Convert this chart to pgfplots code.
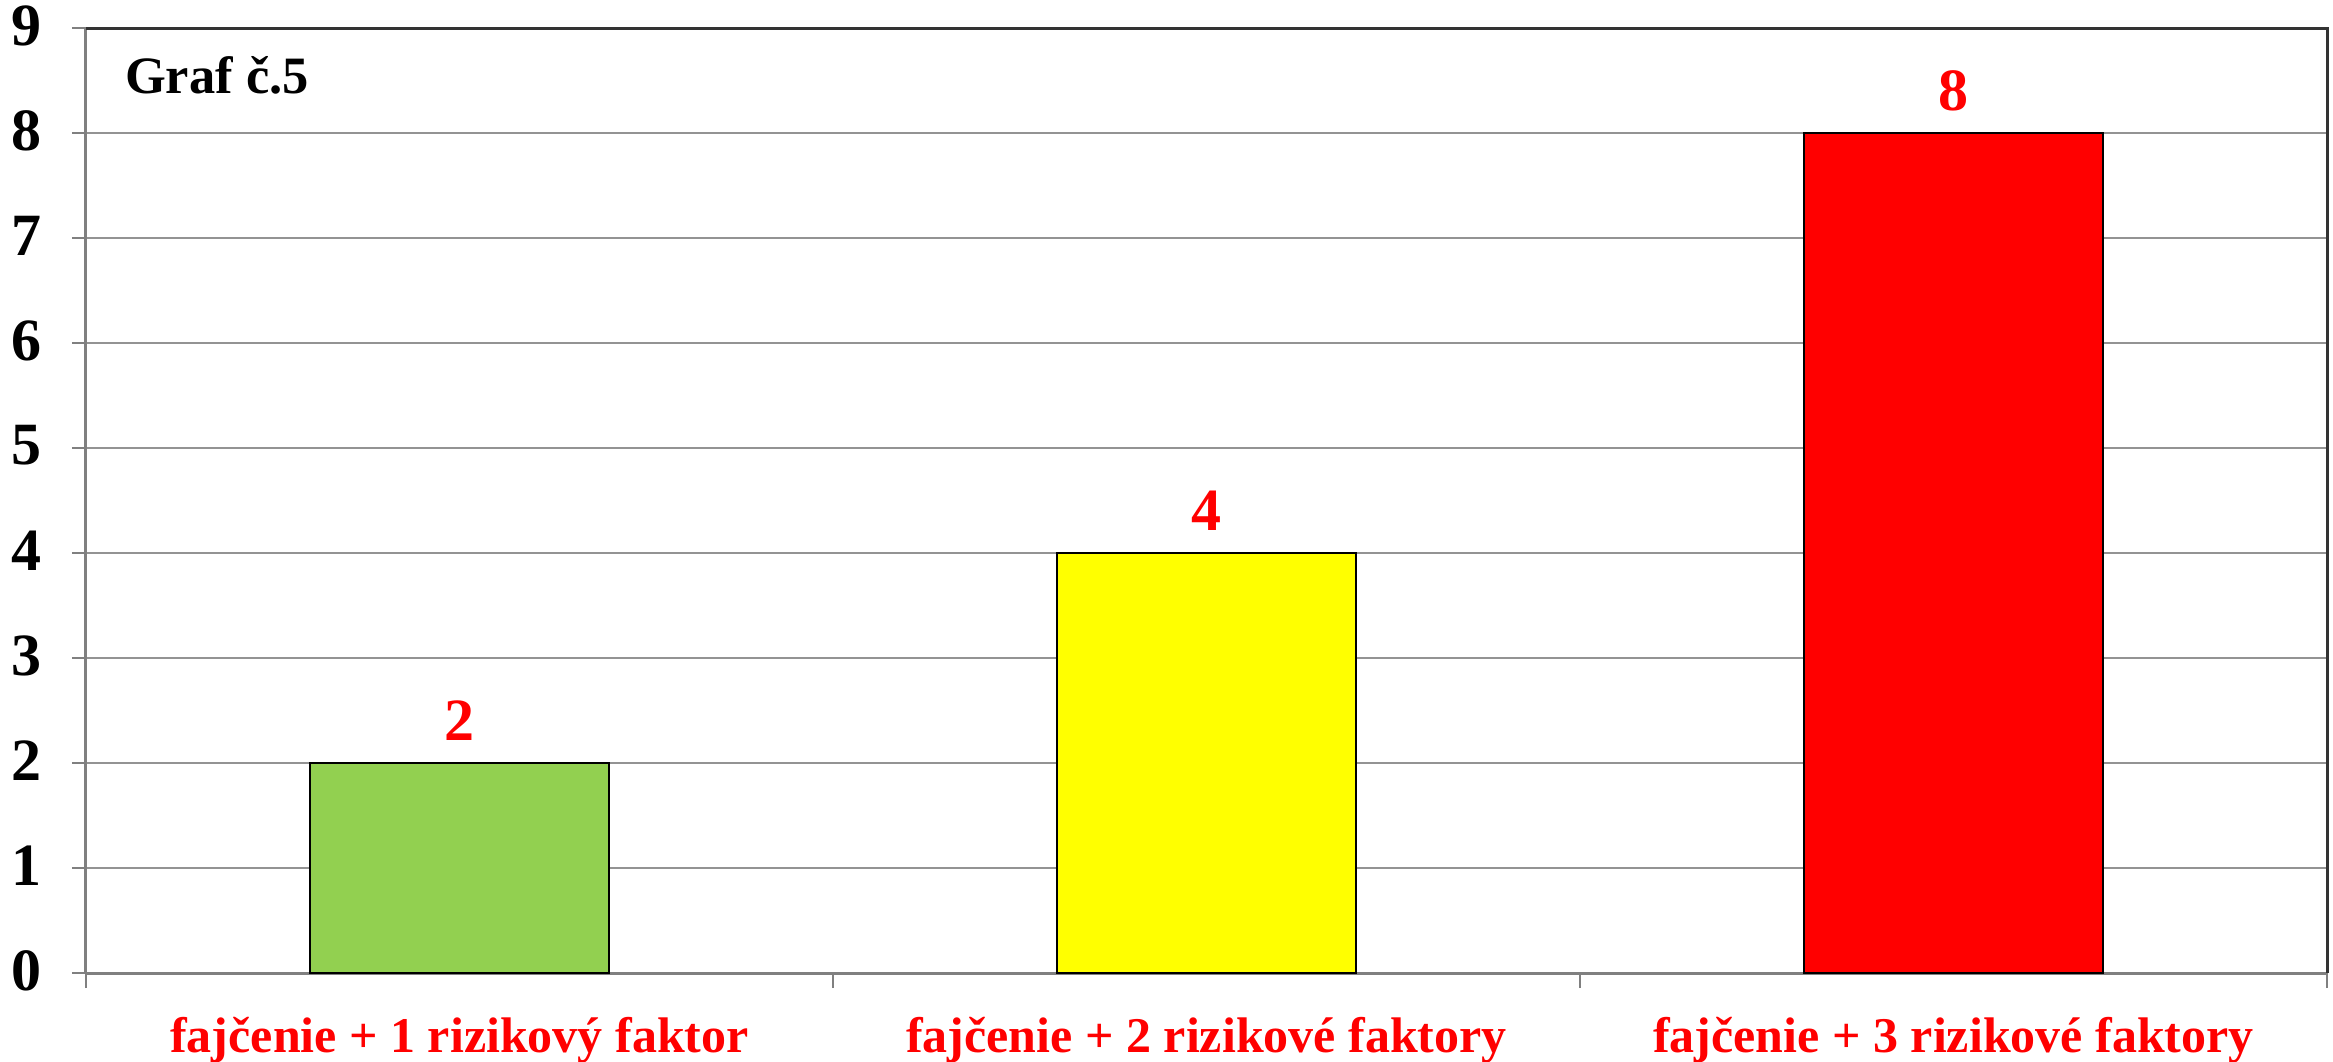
\documentclass[border=0pt]{standalone}
\usepackage{fontspec}
\setmainfont{Liberation Serif}
\usepackage{pgfplots}
\pgfplotsset{compat=1.18}
\definecolor{bargreen}{HTML}{92D050}
\definecolor{baryellow}{HTML}{FFFF00}
\definecolor{barred}{HTML}{FF0000}
\begin{document}
\begin{tikzpicture}
\useasboundingbox (-17.2pt,-17.6pt) rectangle (449.4pt,194.6pt);
\begin{axis}[
  scale only axis, width=448.2pt, height=189pt,
  xmin=-0.5, xmax=2.5, ymin=0, ymax=9,
  ytick={0,1,...,9},
  xtick={0,1,2},
  xticklabels={fajčenie + 1 rizikový faktor, fajčenie + 2 rizikové faktory, fajčenie + 3 rizikové faktory},
  minor xtick={-0.5,0.5,1.5,2.5},
  axis lines*=left,
  axis line style={-, draw=gray, line width=0.6pt},
  ymajorgrids,
  grid style={draw=gray!85, line width=0.5pt},
  tick align=outside,
  major tick length=2.8pt,
  minor tick length=3pt,
  major x tick style={draw=none},
  minor x tick style={draw=gray, line width=0.5pt},
  y tick style={draw=gray, line width=0.5pt},
  /pgf/number format/assume math mode=true,
  yticklabel style={font=\bfseries\fontsize{12}{14}\selectfont, xshift=-2.5pt, yshift=0.5pt},
  xticklabel style={font=\bfseries\fontsize{10}{12}\selectfont, text=barred, yshift=-2.6pt},
  ybar, bar width=59.8pt, bar shift=0pt,
  nodes near coords,
  every node near coord/.append style={font=\bfseries\fontsize{12}{14}\selectfont, text=barred, yshift=1pt},
  clip=false,
]
\addplot[fill=bargreen, draw=black, line width=0.3pt] coordinates {(0,2)};
\addplot[fill=baryellow, draw=black, line width=0.3pt] coordinates {(1,4)};
\addplot[fill=barred, draw=black, line width=0.3pt] coordinates {(2,8)};
\node[anchor=west, inner sep=0pt, font=\bfseries\fontsize{10.5}{12}\selectfont] at (axis description cs:0.017,0.95) {Graf č.5};
\end{axis}
\draw[black!80, line width=0.6pt] (0,189pt) -- (448.2pt,189pt) -- (448.2pt,0);
\end{tikzpicture}
\end{document}
